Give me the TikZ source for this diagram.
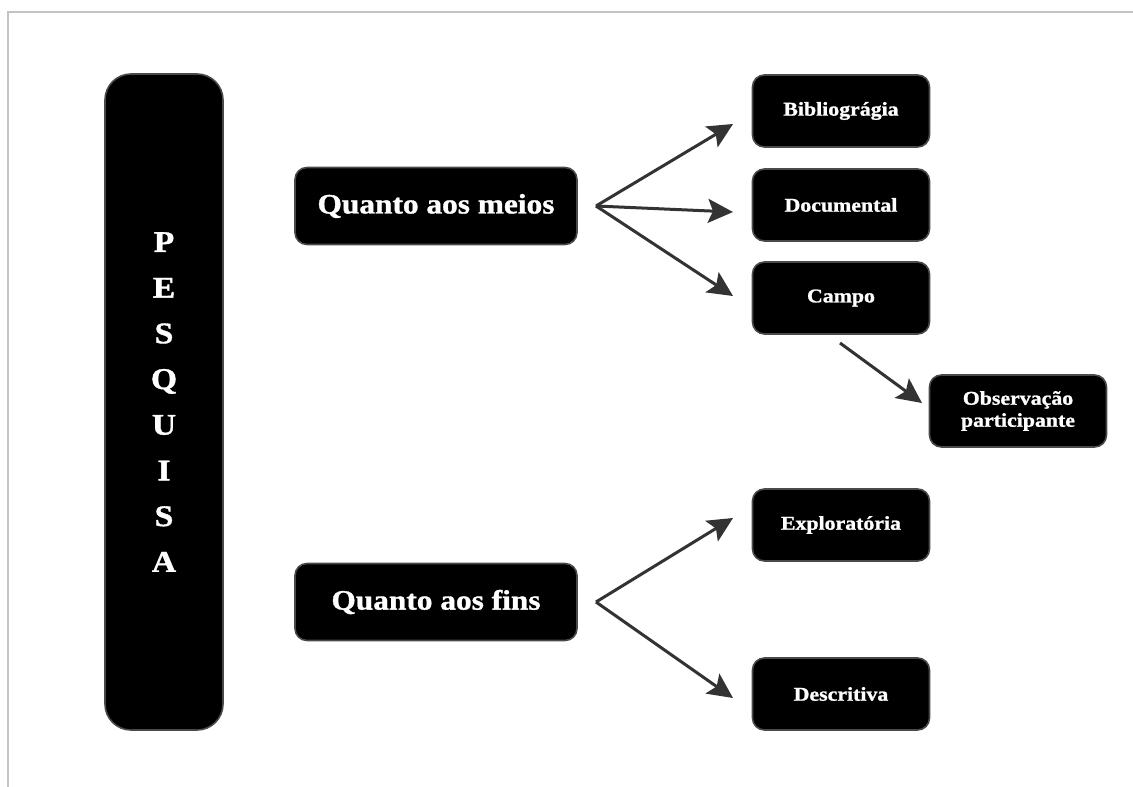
\documentclass[tikz,border=0pt]{standalone}
\usepackage{fontspec}
\setmainfont{Liberation Serif}
\newfontfamily\posterfont[FakeStretch=1.12,FakeBold=1.2]{Liberation Serif Bold}
\usetikzlibrary{arrows.meta}
\definecolor{framegray}{HTML}{C4C4C4}
\definecolor{boxedge}{HTML}{4A4A4A}
\definecolor{arrowgray}{HTML}{333333}
\tikzset{
  blackbox/.style={draw=boxedge, line width=1.6pt, fill=black, text=white,
    rounded corners=12pt, inner sep=0pt, align=center,
    font=\posterfont\fontsize{19.5}{22}\selectfont},
  smallbox/.style={blackbox, minimum width=177pt, minimum height=72pt},
  midbox/.style={blackbox, minimum width=282pt, minimum height=77pt,
    font=\posterfont\fontsize{28}{32}\selectfont},
  tallbox/.style={blackbox, minimum width=118pt, minimum height=656pt,
    rounded corners=26pt, font=\posterfont\fontsize{30}{45.7}\selectfont},
  arrowline/.style={draw=arrowgray, line width=3pt,
    -{Stealth[length=25pt,width=24pt,inset=5pt]}},
  frameline/.style={draw=framegray, line width=1.6pt}
}
\begin{document}
\begin{tikzpicture}[x=1pt,y=-1pt]
\useasboundingbox (0,0) rectangle (1133,787);
\fill[white] (0,0) rectangle (1133,787);
\draw[frameline] (8,787) -- (8,12) -- (1133,12);

\node[tallbox] (pesq) at (164,402) {P\\E\\S\\Q\\U\\I\\S\\A};

\node[midbox] (meios) at (436,206) {Quanto aos meios};
\node[midbox] (fins) at (436,602) {Quanto aos fins};

\node[smallbox] (bib) at (841,111) {Bibliográgia};
\node[smallbox] (doc) at (841,205) {Documental};
\node[smallbox] (campo) at (841,298) {Campo};
\node[smallbox] (obs) at (1018,411) {Observação\\participante};
\node[smallbox] (expl) at (841,525) {Exploratória};
\node[smallbox] (desc) at (841,694) {Descritiva};

\coordinate (forkA) at (596,206);
\coordinate (forkB) at (596,602);
\coordinate (campoOut) at (840,343);
\coordinate (bibIn) at (733,124);
\coordinate (docIn) at (733,212);
\coordinate (campoIn) at (733,296);
\coordinate (obsIn) at (922,403);
\coordinate (explIn) at (733,518);
\coordinate (descIn) at (733,698);

\draw[arrowline] (forkA) -- (bibIn);
\draw[arrowline] (forkA) -- (docIn);
\draw[arrowline] (forkA) -- (campoIn);
\draw[arrowline] (campoOut) -- (obsIn);
\draw[arrowline] (forkB) -- (explIn);
\draw[arrowline] (forkB) -- (descIn);
\end{tikzpicture}
\end{document}
